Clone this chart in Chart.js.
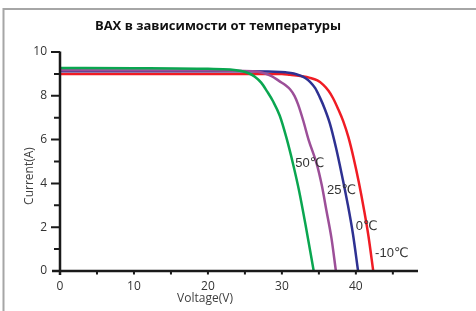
<!DOCTYPE html>
<html>
<head>
<meta charset="utf-8">
<script src="https://cdn.jsdelivr.net/npm/chart.js@4/dist/chart.umd.min.js"></script>
<style>
  body { margin: 0; background: #fff; }
  canvas { display: block; }
</style>
</head>
<body>
<canvas id="ivChart" width="476" height="311"></canvas>
<script>
// I-V curves: [voltage, current]
const curve50 = [[0, 9.27], [10, 9.26], [20, 9.23], [23, 9.2], [24.5, 9.13], [25.5, 9.03], [26.3, 8.88], [27.2, 8.6], [28, 8.2],
    [28.8, 7.75], [29.7, 7.1], [30.6, 6.1], [31.5, 4.9], [32.3, 3.7], [33.2, 2.1], [34.3, 0]];
const curve25 = [[0, 9.17], [20, 9.16], [26, 9.12], [27.4, 9.05], [28.6, 8.9], [29.7, 8.66], [30.5, 8.48], [31.1, 8.3], [31.7, 8.0],
    [32.2, 7.6], [32.9, 6.85], [33.6, 6.0], [34.7, 4.9], [35.4, 3.9], [36.0, 2.8], [36.7, 1.5], [37.3, 0]];
const curve0 = [[0, 9.12], [25, 9.12], [29, 9.1], [30.5, 9.07], [31.6, 9.02], [32.5, 8.92], [33.2, 8.8], [33.8, 8.64], [34.5, 8.35],
    [35.1, 7.95], [35.8, 7.4], [36.5, 6.72], [37.3, 5.65], [38.1, 4.4], [38.9, 3.05], [39.6, 1.7], [40.3, 0]];
const curveM10 = [[0, 9.0], [30, 9.0], [31.1, 8.96], [32.5, 8.9], [33.8, 8.82], [34.8, 8.7], [35.6, 8.5], [36.3, 8.23], [36.9, 7.9],
    [37.6, 7.4], [38.3, 6.83], [39.0, 6.1], [39.7, 5.15], [40.4, 4.05], [41.1, 2.8], [41.7, 1.6], [42.35, 0]];

const seriesNames = ['50℃', '25℃', '0℃', '-10℃'];
const seriesColors = ['#0aa650', '#9c4f98', '#2e3192', '#f01c24'];
// where each curve label sits: [voltage, current] of its left edge
const labelSpots = [[31.8, 4.93], [36.1, 3.68], [40.0, 2.03], [42.6, 0.78]];

const xTicks = [0, 10, 20, 30, 40];
const yTicks = [0, 2, 4, 6, 8, 10];

const toPts = arr => arr.map(p => ({ x: p[0], y: p[1] }));
const allCurves = [curve50, curve25, curve0, curveM10];

const decor = {
    id: 'decor',
    beforeDraw(chart) {
        const c = chart.ctx;
        c.save();
        c.fillStyle = '#fff';
        c.fillRect(0, 0, chart.width, chart.height);
        // frame (only top and left show)
        c.strokeStyle = '#a6a6a6';
        c.lineWidth = 2;
        c.beginPath();
        c.moveTo(3.5, chart.height + 2);
        c.lineTo(3.5, 9);
        c.lineTo(chart.width + 2, 9);
        c.stroke();
        c.restore();
    },
    afterDraw(chart) {
        const c = chart.ctx;
        const xs = chart.scales.x, ys = chart.scales.y;
        const left = xs.getPixelForValue(0), bottom = ys.getPixelForValue(0);
        const top = ys.getPixelForValue(10), right = chart.chartArea.right;
        c.save();
        c.strokeStyle = '#1a1a1a';
        c.lineWidth = 2.5;
        c.beginPath();
        c.moveTo(left, top - 0.5);
        c.lineTo(left, bottom + 4);
        c.moveTo(left - 8, bottom);
        c.lineTo(right, bottom);
        c.stroke();
        c.lineWidth = 2;
        c.beginPath();
        for (let v = 1; v <= 10; v++) {
            const y = ys.getPixelForValue(v);
            c.moveTo(left - (v % 2 === 0 ? 9 : 6), y);
            c.lineTo(left, y);
        }
        for (let v = 5; v <= 45; v += 5) {
            const x = xs.getPixelForValue(v);
            c.moveTo(x, bottom);
            c.lineTo(x, bottom + 3.5);
        }
        c.stroke();

        // curve labels
        c.fillStyle = '#333';
        c.font = '13px "Liberation Sans", "DejaVu Sans", sans-serif';
        c.textBaseline = 'middle';
        c.textAlign = 'left';
        seriesNames.forEach((name, i) => {
            c.fillText(name, xs.getPixelForValue(labelSpots[i][0]), ys.getPixelForValue(labelSpots[i][1]));
        });

        // title
        c.fillStyle = '#111';
        c.font = 'bold 13px "Open Sans", sans-serif';
        c.textAlign = 'center';
        c.fillText('ВАХ в зависимости от температуры', 218, 26);

        // axis titles
        c.fillStyle = '#404040';
        c.font = '12px "Open Sans", sans-serif';
        c.fillText('Voltage(V)', 205, 299);
        c.translate(30, 176);
        c.rotate(-Math.PI / 2);
        c.fillText('Current(A)', 0, 0);
        c.restore();
    }
};

new Chart(document.getElementById('ivChart'), {
    type: 'scatter',
    data: {
        datasets: allCurves.map((curve, i) => ({
            label: seriesNames[i],
            data: toPts(curve),
            showLine: true,
            borderColor: seriesColors[i],
            borderWidth: 2.5,
            pointRadius: 0,
            cubicInterpolationMode: 'monotone'
        }))
    },
    options: {
        responsive: false,
        animation: false,
        devicePixelRatio: 1,
        layout: { padding: { left: 0, right: 58, top: 52, bottom: 0 } },
        plugins: { legend: { display: false }, title: { display: false }, tooltip: { enabled: false } },
        scales: {
            x: {
                type: 'linear',
                min: 0,
                max: 48.4,
                afterFit: s => { s.height = 40; },
                afterBuildTicks: s => { s.ticks = xTicks.map(v => ({ value: v })); },
                grid: { display: false, drawTicks: false },
                border: { display: false },
                ticks: { padding: 8, color: '#333', font: { family: 'Open Sans', size: 12 } }
            },
            y: {
                min: 0,
                max: 10,
                afterFit: s => { s.width = 60; },
                afterBuildTicks: s => { s.ticks = yTicks.map(v => ({ value: v })); },
                grid: { display: false, drawTicks: false },
                border: { display: false },
                ticks: { padding: 13, color: '#333', font: { family: 'Open Sans', size: 12 } }
            }
        }
    },
    plugins: [decor]
});
</script>
</body>
</html>
